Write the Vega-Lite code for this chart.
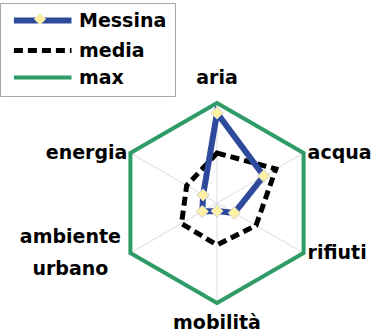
{
  "$schema": "https://vega.github.io/schema/vega-lite/v6.json",
  "width": 382,
  "height": 335,
  "padding": 0,
  "autosize": {"type": "none"},
  "background": "white",
  "config": {"view": {"stroke": null}, "font": "DejaVu Sans"},
  "data": {
    "values": [
      {"serie": "max", "asse": "aria", "valore": 1},
      {"serie": "max", "asse": "acqua", "valore": 1},
      {"serie": "max", "asse": "rifiuti", "valore": 1},
      {"serie": "max", "asse": "mobilità", "valore": 1},
      {"serie": "max", "asse": "ambiente urbano", "valore": 1},
      {"serie": "max", "asse": "energia", "valore": 1},
      {"serie": "media", "asse": "aria", "valore": 0.5},
      {"serie": "media", "asse": "acqua", "valore": 0.68},
      {"serie": "media", "asse": "rifiuti", "valore": 0.45},
      {"serie": "media", "asse": "mobilità", "valore": 0.42},
      {"serie": "media", "asse": "ambiente urbano", "valore": 0.41},
      {"serie": "media", "asse": "energia", "valore": 0.35},
      {"serie": "Messina", "asse": "aria", "valore": 0.9},
      {"serie": "Messina", "asse": "acqua", "valore": 0.54},
      {"serie": "Messina", "asse": "rifiuti", "valore": 0.2},
      {"serie": "Messina", "asse": "mobilità", "valore": 0.08},
      {"serie": "Messina", "asse": "ambiente urbano", "valore": 0.17},
      {"serie": "Messina", "asse": "energia", "valore": 0.16}
    ]
  },
  "transform": [
    {"calculate": "indexof(['aria','acqua','rifiuti','mobilità','ambiente urbano','energia'], datum.asse)", "as": "i"},
    {"calculate": "datum.valore*sin(datum.i*PI/3)", "as": "x"},
    {"calculate": "datum.valore*cos(datum.i*PI/3)", "as": "y"}
  ],
  "encoding": {
    "x": {"field": "x", "type": "quantitative", "scale": {"domain": [-2.17, 1.65], "nice": false, "zero": false}, "axis": null},
    "y": {"field": "y", "type": "quantitative", "scale": {"domain": [-1.32, 2.03], "nice": false, "zero": false}, "axis": null}
  },
  "layer": [
    {
      "transform": [{"filter": "datum.serie === 'max'"}],
      "mark": {"type": "rule", "color": "#dcdcdc", "strokeWidth": 1},
      "encoding": {"x2": {"datum": 0}, "y2": {"datum": 0}}
    },
    {
      "mark": {"type": "line", "interpolate": "linear-closed"},
      "encoding": {
        "order": {"field": "i", "type": "quantitative"},
        "color": {
          "field": "serie", "type": "nominal",
          "scale": {"domain": ["Messina", "media", "max"], "range": ["#2E4A9C", "#000000", "#2F9B67"]},
          "legend": {
            "orient": "none", "legendX": 0, "legendY": 3, "title": null,
            "symbolType": "M-0.6,0H9", "symbolSize": 144, "symbolStrokeWidth": 6,
            "labelFontSize": 19, "labelFont": "DejaVu Sans", "labelFontWeight": "bold", "labelColor": "black",
            "labelOffset": 52, "rowPadding": 7, "padding": 8,
            "fillColor": "white", "strokeColor": "#a8a8a8"
          }
        },
        "strokeDash": {
          "field": "serie", "type": "nominal",
          "scale": {"domain": ["Messina", "media", "max"], "range": [[1, 0], [9, 5], [1, 0]]}
        },
        "strokeWidth": {
          "field": "serie", "type": "nominal",
          "scale": {"domain": ["Messina", "media", "max"], "range": [6, 4, 7]},
          "legend": null
        }
      }
    },
    {
      "transform": [{"filter": "datum.serie === 'Messina'"}],
      "mark": {"type": "point", "filled": true, "fill": "#FFF1A3", "stroke": "#cfcfcf", "strokeWidth": 1, "size": 150, "opacity": 1},
      "encoding": {
        "shape": {
          "field": "serie", "type": "nominal",
          "scale": {"domain": ["Messina"], "range": ["diamond"]},
          "legend": {
            "orient": "none", "legendX": 33, "legendY": 12, "title": null, "padding": 0,
            "labelExpr": "''", "labelOffset": 0,
            "symbolSize": 150, "symbolFillColor": "#FFF1A3", "symbolStrokeColor": "#cfcfcf", "symbolStrokeWidth": 1, "symbolOpacity": 1
          }
        }
      }
    },
    {
      "transform": [{"filter": "datum.serie === 'max' && datum.asse === 'aria'"}],
      "mark": {"type": "text", "align": "center", "baseline": "middle", "dy": -25, "fontSize": 19, "fontWeight": "bold", "color": "black"},
      "encoding": {"text": {"field": "asse"}}
    },
    {
      "transform": [{"filter": "datum.serie === 'max' && (datum.asse === 'acqua' || datum.asse === 'rifiuti')"}],
      "mark": {"type": "text", "align": "left", "baseline": "middle", "dx": 4, "fontSize": 19, "fontWeight": "bold", "color": "black"},
      "encoding": {"text": {"field": "asse"}}
    },
    {
      "transform": [{"filter": "datum.serie === 'max' && datum.asse === 'mobilità'"}],
      "mark": {"type": "text", "align": "center", "baseline": "middle", "dy": 20, "fontSize": 19, "fontWeight": "bold", "color": "black"},
      "encoding": {"text": {"field": "asse"}}
    },
    {
      "transform": [{"filter": "datum.serie === 'max' && datum.asse === 'energia'"}],
      "mark": {"type": "text", "align": "right", "baseline": "middle", "dx": -3, "fontSize": 19, "fontWeight": "bold", "color": "black"},
      "encoding": {"text": {"field": "asse"}}
    },
    {
      "transform": [{"filter": "datum.serie === 'max' && datum.asse === 'ambiente urbano'"}],
      "mark": {"type": "text", "align": "center", "baseline": "middle", "dx": -60, "dy": -16, "lineBreak": " ", "lineHeight": 32, "fontSize": 19, "fontWeight": "bold", "color": "black"},
      "encoding": {"text": {"field": "asse"}}
    }
  ]
}
